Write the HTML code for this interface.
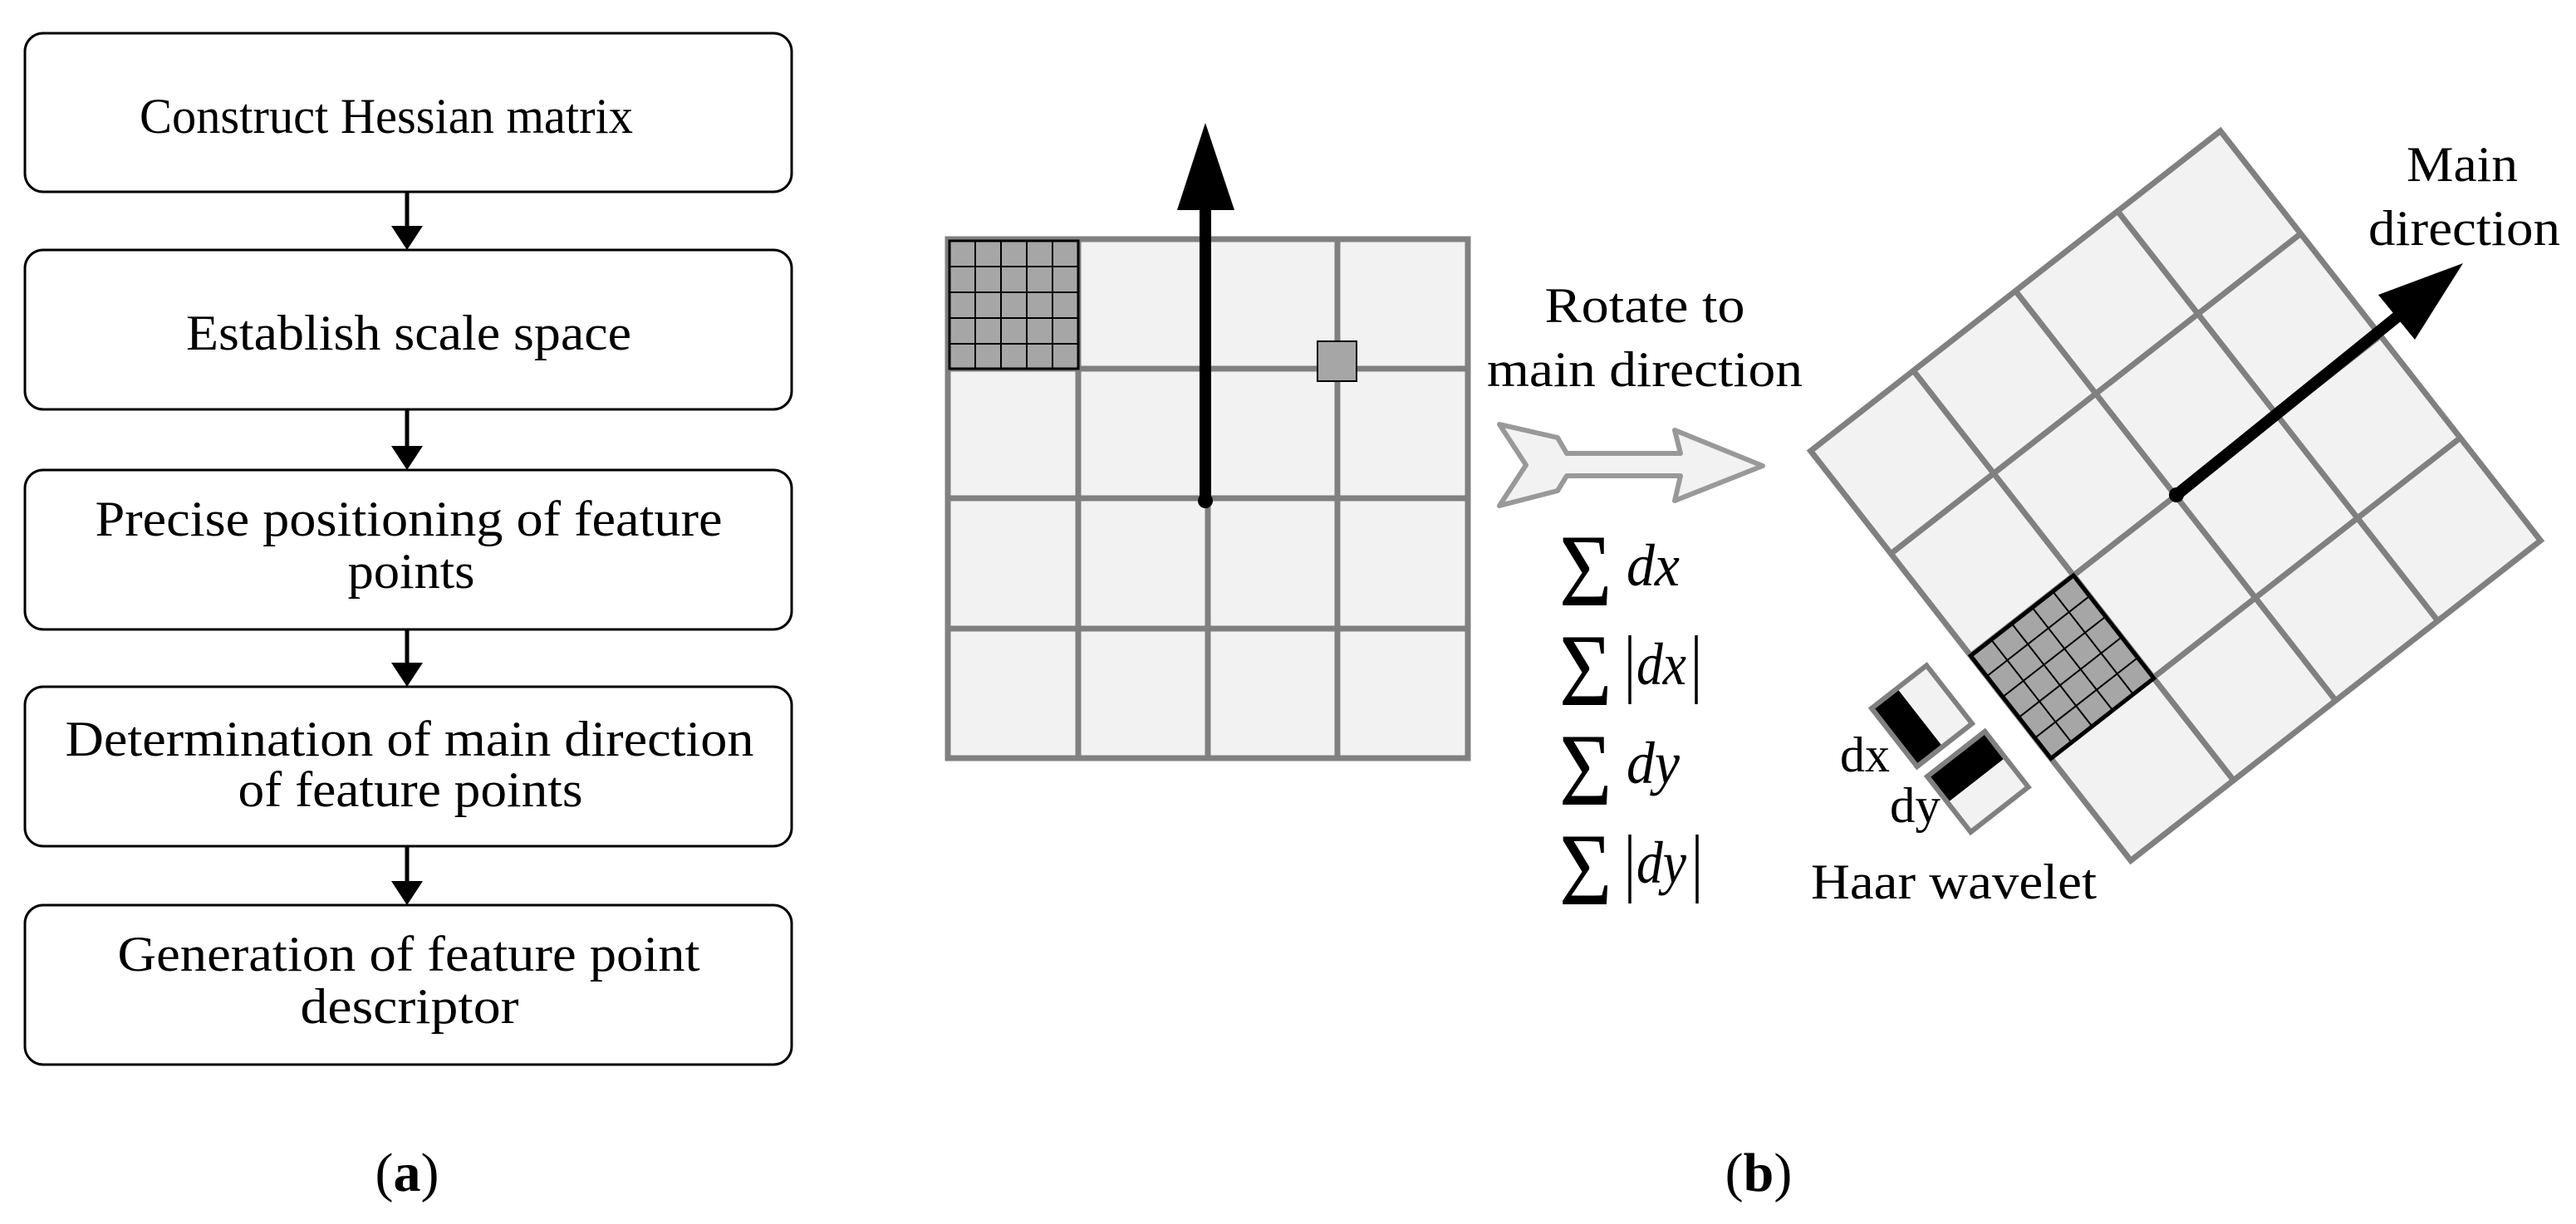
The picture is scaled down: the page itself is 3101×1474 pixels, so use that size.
<!DOCTYPE html>
<html><head><meta charset="utf-8"><style>
html,body{margin:0;padding:0;background:#fff;}
svg{display:block;}
text{font-family:"Liberation Serif",serif;fill:#000;}
</style></head><body>
<svg width="3101" height="1474" viewBox="0 0 3101 1474" xmlns="http://www.w3.org/2000/svg">
<!-- Left flowchart -->
<g fill="#fff" stroke="#000" stroke-width="3">
<rect x="30" y="40" width="923" height="191" rx="22"/>
<rect x="30" y="301" width="923" height="192" rx="22"/>
<rect x="30" y="566" width="923" height="192" rx="22"/>
<rect x="30" y="827" width="923" height="192" rx="22"/>
<rect x="30" y="1090" width="923" height="192" rx="22"/>
</g>
<g stroke="#000" stroke-width="5">
<line x1="490" y1="231" x2="490" y2="276"/>
<line x1="490" y1="493" x2="490" y2="540"/>
<line x1="490" y1="758" x2="490" y2="801"/>
<line x1="490" y1="1019" x2="490" y2="1064"/>
</g>
<g fill="#000">
<polygon points="471,272 509,272 490,301"/>
<polygon points="471,537 509,537 490,566"/>
<polygon points="471,798 509,798 490,827"/>
<polygon points="471,1061 509,1061 490,1090"/>
</g>
<g font-size="60" text-anchor="middle">
<text x="465" y="160" textLength="594" lengthAdjust="spacingAndGlyphs">Construct Hessian matrix</text>
<text x="492" y="421" textLength="536" lengthAdjust="spacingAndGlyphs">Establish scale space</text>
<text x="492" y="645" textLength="755" lengthAdjust="spacingAndGlyphs">Precise positioning of feature</text>
<text x="495" y="708" textLength="153" lengthAdjust="spacingAndGlyphs">points</text>
<text x="493" y="910" textLength="829" lengthAdjust="spacingAndGlyphs">Determination of main direction</text>
<text x="494" y="971" textLength="415" lengthAdjust="spacingAndGlyphs">of feature points</text>
<text x="492" y="1169" textLength="701" lengthAdjust="spacingAndGlyphs">Generation of feature point</text>
<text x="493" y="1232" textLength="263" lengthAdjust="spacingAndGlyphs">descriptor</text>
</g>
<text x="490" y="1434" font-size="66" text-anchor="middle">(<tspan font-weight="bold">a</tspan>)</text>
<text x="2117" y="1434" font-size="66" text-anchor="middle">(<tspan font-weight="bold">b</tspan>)</text>

<!-- Middle grid -->
<g stroke="#808080" stroke-width="7" fill="#f2f2f2">
<rect x="1141" y="288" width="626" height="625"/>
<line x1="1298" y1="288" x2="1298" y2="913"/>
<line x1="1454" y1="288" x2="1454" y2="913"/>
<line x1="1610" y1="288" x2="1610" y2="913"/>
<line x1="1141" y1="444" x2="1767" y2="444"/>
<line x1="1141" y1="600" x2="1767" y2="600"/>
<line x1="1141" y1="757" x2="1767" y2="757"/>
</g>
<g stroke="#000" stroke-width="2" fill="#a6a6a6">
<rect x="1143" y="290" width="155" height="154" stroke-width="3"/>
<line x1="1174" y1="290" x2="1174" y2="444"/>
<line x1="1205" y1="290" x2="1205" y2="444"/>
<line x1="1236" y1="290" x2="1236" y2="444"/>
<line x1="1267" y1="290" x2="1267" y2="444"/>
<line x1="1143" y1="321" x2="1298" y2="321"/>
<line x1="1143" y1="352" x2="1298" y2="352"/>
<line x1="1143" y1="383" x2="1298" y2="383"/>
<line x1="1143" y1="414" x2="1298" y2="414"/>
<rect x="1586" y="411" width="47" height="48"/>
</g>
<line x1="1451" y1="604" x2="1451" y2="245" stroke="#000" stroke-width="14"/>
<polygon points="1451,148 1486,253 1417,253" fill="#000"/>
<circle cx="1451" cy="603" r="9" fill="#000"/>

<text x="1980" y="388" font-size="60" text-anchor="middle" textLength="241" lengthAdjust="spacingAndGlyphs">Rotate to</text>
<text x="1980" y="465" font-size="60" text-anchor="middle" textLength="380" lengthAdjust="spacingAndGlyphs">main direction</text>

<polygon points="1805,511 1875,527 1886,546 2023,546 2016,518 2122,561 2016,603 2023,573 1886,573 1875,591 1805,609 1837,560" fill="#f2f2f2" stroke="#999" stroke-width="6" stroke-linejoin="round"/>

<!-- sums -->
<g font-size="124">
<text x="0" y="0" transform="translate(1877,729) scale(0.88,1)">Σ</text>
<text x="0" y="0" transform="translate(1877,849) scale(0.88,1)">Σ</text>
<text x="0" y="0" transform="translate(1877,969) scale(0.88,1)">Σ</text>
<text x="0" y="0" transform="translate(1877,1089) scale(0.88,1)">Σ</text>
</g>
<g font-size="72" font-style="italic">
<text x="1958" y="705" textLength="64" lengthAdjust="spacingAndGlyphs">dx</text>
<text x="1970" y="824" textLength="60" lengthAdjust="spacingAndGlyphs">dx</text>
<text x="1958" y="943" textLength="64" lengthAdjust="spacingAndGlyphs">dy</text>
<text x="1970" y="1063" textLength="60" lengthAdjust="spacingAndGlyphs">dy</text>
</g>
<g stroke="#000" stroke-width="3.5">
<line x1="1962" y1="765" x2="1962" y2="848"/>
<line x1="2042" y1="765" x2="2042" y2="848"/>
<line x1="1962" y1="1005" x2="1962" y2="1088"/>
<line x1="2043" y1="1005" x2="2043" y2="1088"/>
</g>

<!-- Rotated grid -->
<g transform="translate(2619,597) rotate(-38)">
<g stroke="#808080" stroke-width="7" fill="#f2f2f2">
<rect x="-313" y="-313" width="626" height="626"/>
<line x1="-156" y1="-313" x2="-156" y2="313"/>
<line x1="0" y1="-313" x2="0" y2="313"/>
<line x1="156" y1="-313" x2="156" y2="313"/>
<line x1="-313" y1="-156" x2="313" y2="-156"/>
<line x1="-313" y1="0" x2="313" y2="0"/>
<line x1="-313" y1="156" x2="313" y2="156"/>
</g>
<g stroke="#000" stroke-width="2" fill="#a6a6a6">
<rect x="-313" y="0" width="157" height="157" stroke-width="5"/>
<line x1="-281.6" y1="0" x2="-281.6" y2="157"/>
<line x1="-250.2" y1="0" x2="-250.2" y2="157"/>
<line x1="-218.8" y1="0" x2="-218.8" y2="157"/>
<line x1="-187.4" y1="0" x2="-187.4" y2="157"/>
<line x1="-313" y1="31.4" x2="-156" y2="31.4"/>
<line x1="-313" y1="62.8" x2="-156" y2="62.8"/>
<line x1="-313" y1="94.2" x2="-156" y2="94.2"/>
<line x1="-313" y1="125.6" x2="-156" y2="125.6"/>
</g>
</g>
<line x1="2620" y1="596" x2="2905" y2="366" stroke="#000" stroke-width="14"/>
<polygon points="2965,317 2907,409 2863,355" fill="#000"/>
<circle cx="2620" cy="596" r="9" fill="#000"/>

<!-- Haar wavelets -->
<g transform="translate(2253,853) rotate(-38)">
<rect x="0" y="0" width="84" height="89" fill="#f2f2f2" stroke="#808080" stroke-width="6"/>
<rect x="3" y="3" width="36" height="83" fill="#000"/>
</g>
<g transform="translate(2320,935) rotate(-38)">
<rect x="0" y="0" width="88" height="85" fill="#f2f2f2" stroke="#808080" stroke-width="6"/>
<rect x="3" y="3" width="82" height="37" fill="#000"/>
</g>
<g font-size="60">
<text x="2215" y="929" textLength="60" lengthAdjust="spacingAndGlyphs">dx</text>
<text x="2275" y="990" textLength="61" lengthAdjust="spacingAndGlyphs">dy</text>
<text x="2180" y="1082" textLength="344" lengthAdjust="spacingAndGlyphs">Haar wavelet</text>
<text x="2897" y="218" textLength="134" lengthAdjust="spacingAndGlyphs">Main</text>
<text x="2851" y="295" textLength="231" lengthAdjust="spacingAndGlyphs">direction</text>
</g>
</svg>
</body></html>
